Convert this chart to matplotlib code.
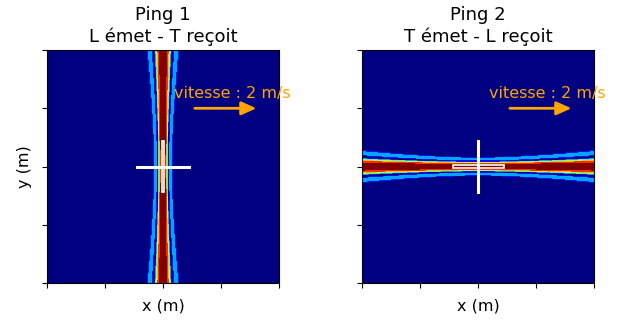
import numpy as np
import matplotlib
matplotlib.use("Agg")
import matplotlib.pyplot as plt
from matplotlib.patches import Rectangle

# scene / beam parameters
titles = ["Ping 1\nL émet - T reçoit", "Ping 2\nT émet - L reçoit"]
beam_axis = ["y", "x"]          # direction along which the beam extends
half_width_center = 0.045       # main-lobe half width at the array
half_width_edge = 0.08          # main-lobe half width at the border
array_half_len = 0.22
speed_label = "vitesse : 2 m/s"
ticks = [-1, -0.5, 0, 0.5, 1]
levels = [0, 0.14, 0.19, 0.27, 0.35, 0.45, 0.57, 0.78, 1.01]


def beam(X, Y, along):
    r = Y if along == "y" else X
    t = X if along == "y" else Y
    r0 = 1.0 / np.sqrt((half_width_edge / half_width_center) ** 2 - 1)
    w = half_width_center * np.sqrt(1 + (r / r0) ** 2)
    return np.abs(np.sinc(t / w))


x = np.linspace(-1, 1, 600)
X, Y = np.meshgrid(x, x)
band_colors = plt.cm.jet(np.linspace(0, 1, len(levels) - 1))

fig = plt.figure(figsize=(6.21, 3.24), dpi=100)
positions = [[0.0757, 0.1265, 0.3736, 0.719], [0.583, 0.1265, 0.3736, 0.719]]

for i, pos in enumerate(positions):
    ax = fig.add_axes(pos)
    Z = beam(X, Y, beam_axis[i])
    ax.contourf(X, Y, Z, levels=levels, colors=band_colors)
    ax.set_xlim(-1, 1)
    ax.set_ylim(-1, 1)
    ax.set_xticks(ticks)
    ax.set_yticks(ticks)
    ax.set_xticklabels([])
    ax.set_yticklabels([])
    ax.set_title(titles[i], fontsize=13)
    ax.set_xlabel("x (m)", fontsize=11.5)
    if i == 0:
        ax.set_ylabel("y (m)", fontsize=11.5)

    # arrays: emitter drawn as a bar, receiver as an outlined strip
    L = array_half_len
    if beam_axis[i] == "y":
        ax.plot([-L, L], [0, 0], color="white", lw=2.2)
        ax.add_patch(Rectangle((-0.012, -L), 0.024, 2 * L, fill=False,
                               edgecolor="white", lw=1.2))
    else:
        ax.plot([0, 0], [-L, L], color="white", lw=2.2)
        ax.add_patch(Rectangle((-L, -0.012), 2 * L, 0.024, fill=False,
                               edgecolor="white", lw=1.2))

    ax.text(0.548, 0.815, speed_label, transform=ax.transAxes, color="orange",
            fontsize=11.5, ha="left", va="center", clip_on=False)
    ax.annotate("", xy=(0.915, 0.75), xytext=(0.625, 0.75),
                xycoords="axes fraction",
                arrowprops=dict(arrowstyle="-|>,head_width=0.4,head_length=0.9",
                                color="orange", lw=2))

fig.savefig("out.png", dpi=100)
